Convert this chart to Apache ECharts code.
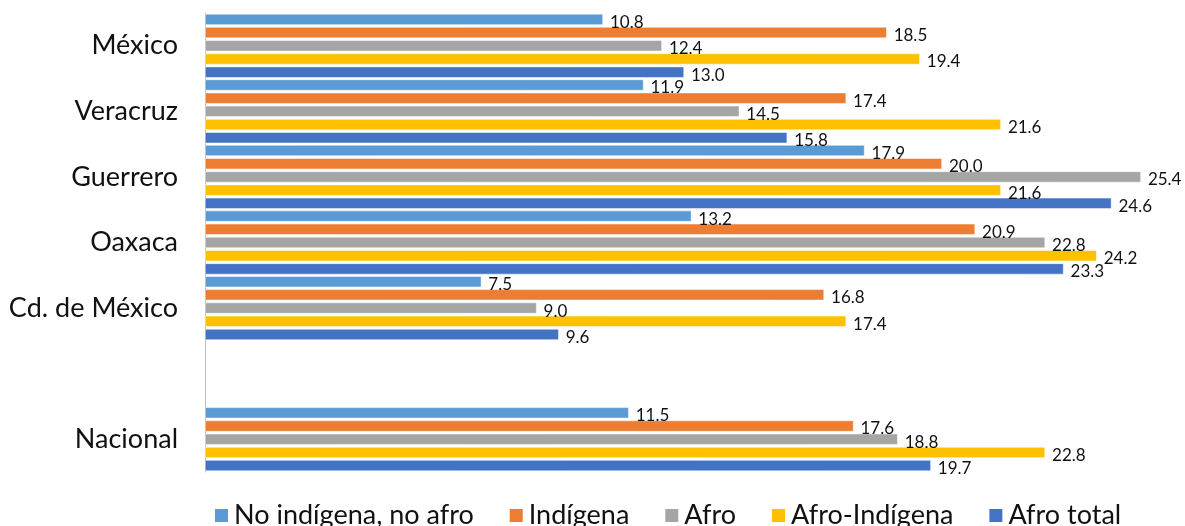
<!DOCTYPE html>
<html>
<head>
<meta charset="utf-8">
<script src="https://cdn.jsdelivr.net/npm/echarts@6/dist/echarts.min.js"></script>
<style>
  html, body { margin: 0; padding: 0; background: #fff; }
  #main { width: 1185px; height: 526px; }
</style>
</head>
<body>
<div id="main"></div>
<script>
// categorías (la vacía separa Nacional)
const categorias = ['México', 'Veracruz', 'Guerrero', 'Oaxaca', 'Cd. de México', '', 'Nacional'];
const noIndigena = [10.8, 11.9, 17.9, 13.2, 7.5, null, 11.5];
const indigena = [18.5, 17.4, 20.0, 20.9, 16.8, null, 17.6];
const afro = [12.4, 14.5, 25.4, 22.8, 9.0, null, 18.8];
const afroIndigena = [19.4, 21.6, 21.6, 24.2, 17.4, null, 22.8];
const afroTotal = [13.0, 15.8, 24.6, 23.3, 9.6, null, 19.7];

const fuente = 'Lato, "Open Sans", sans-serif';
const chart = echarts.init(document.getElementById('main'));

const mkSerie = (name, data, color) => ({
  name,
  type: 'bar',
  data,
  barWidth: 11,
  barGap: '20%',
  itemStyle: { color, borderColor: '#fff', borderWidth: 0.5 },
  label: {
    show: true,
    position: 'right',
    distance: 7,
    offset: [0, 3],
    color: '#111',
    fontSize: 17,
    fontFamily: fuente,
    formatter: (p) => (p.value == null ? '' : p.value.toFixed(1)),
  },
});

const option = {
  animation: false,
  grid: { left: 205, top: 13, height: 459, right: 22, containLabel: false },
  xAxis: {
    type: 'value',
    min: 0,
    max: 26,
    show: false,
  },
  yAxis: {
    type: 'category',
    data: categorias,
    inverse: true,
    axisLine: { show: true, lineStyle: { color: '#bfbfbf', width: 1 } },
    axisTick: { show: false },
    axisLabel: { fontSize: 27, color: '#111', fontFamily: fuente, margin: 27 },
  },
  legend: {
    left: 208,
    top: 497,
    icon: 'rect',
    itemWidth: 15,
    itemHeight: 15,
    itemGap: 34,
    textStyle: { fontSize: 27, color: '#111', fontFamily: fuente },
  },
  series: [
    mkSerie('No indígena, no afro', noIndigena, '#5B9BD5'),
    mkSerie('Indígena', indigena, '#ED7D31'),
    mkSerie('Afro', afro, '#A5A5A5'),
    mkSerie('Afro-Indígena', afroIndigena, '#FFC000'),
    mkSerie('Afro total', afroTotal, '#4472C4'),
  ],
};

chart.setOption(option);
</script>
</body>
</html>
